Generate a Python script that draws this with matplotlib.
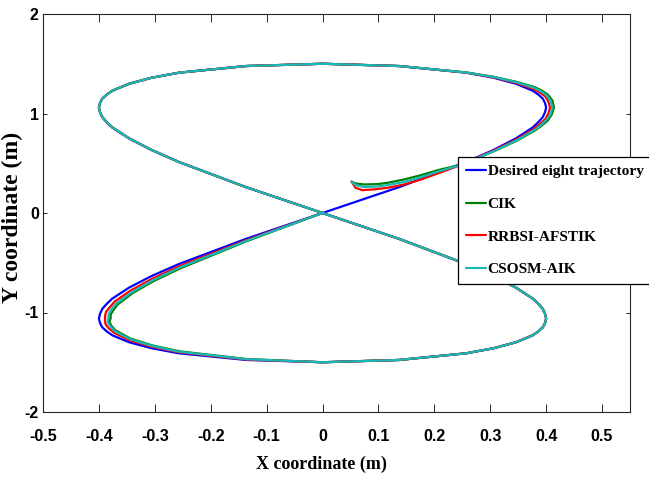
import matplotlib
matplotlib.use('Agg')
import matplotlib.pyplot as plt
from matplotlib.font_manager import FontProperties

plt.rcParams['font.family'] = ['Liberation Serif', 'DejaVu Serif']
plt.rcParams['axes.unicode_minus'] = False

# ---- data ----
# desired eight, first part (origin -> upper right tip -> near top)
des_start_x = [0, 0.137, 0.257, 0.306, 0.346, 0.376, 0.386, 0.394, 0.398, 0.400, 0.398, 0.394, 0.386,
               0.376, 0.346, 0.306, 0.257]
des_start_y = [0, 0.260, 0.513, 0.634, 0.750, 0.860, 0.913, 0.964, 1.013, 1.061, 1.106, 1.149, 1.190,
               1.229, 1.299, 1.359, 1.410]

# part where all four curves lie on top of each other (top -> upper left -> origin -> lower right -> bottom)
mid_x = [0.137, 0, -0.137, -0.257, -0.306, -0.346, -0.376, -0.386, -0.394, -0.398, -0.400, -0.398,
         -0.394, -0.386, -0.376, -0.346, -0.306, -0.257, -0.137, 0, 0.137, 0.257, 0.306, 0.346,
         0.376, 0.386, 0.394, 0.398, 0.400, 0.398, 0.394, 0.386, 0.376, 0.346, 0.306, 0.257, 0.137, 0]
mid_y = [1.477, 1.500, 1.477, 1.410, 1.359, 1.299, 1.229, 1.190, 1.149, 1.106, 1.061, 1.013,
         0.964, 0.913, 0.860, 0.750, 0.634, 0.513, 0.260, 0, -0.260, -0.513, -0.634, -0.750,
         -0.860, -0.913, -0.964, -1.013, -1.061, -1.106, -1.149, -1.190, -1.229, -1.299, -1.359, -1.410, -1.477, -1.500]

# desired eight, last part (lower left lobe back to origin)
des_end_x = [-0.137, -0.257, -0.306, -0.346, -0.376, -0.386, -0.394, -0.398, -0.400, -0.398, -0.394,
             -0.386, -0.376, -0.346, -0.306, -0.257, -0.137, 0]
des_end_y = [-1.477, -1.410, -1.359, -1.299, -1.229, -1.190, -1.149, -1.106, -1.061, -1.013, -0.964,
             -0.913, -0.860, -0.750, -0.634, -0.513, -0.260, 0]

# CIK
cik_start_x = [0.052, 0.059, 0.074, 0.098, 0.116, 0.146, 0.176, 0.206, 0.245,
               0.307, 0.348, 0.380, 0.392, 0.403, 0.410, 0.414, 0.411, 0.403, 0.392, 0.380, 0.347, 0.306, 0.257]
cik_start_y = [0.315, 0.297, 0.287, 0.290, 0.303, 0.337, 0.380, 0.430, 0.482,
               0.621, 0.728, 0.829, 0.878, 0.930, 0.989, 1.061, 1.133, 1.190, 1.231, 1.264, 1.318, 1.369, 1.413]
cik_end_x = [-0.137, -0.256, -0.305, -0.344, -0.371, -0.378, -0.381, -0.380, -0.379, -0.379, -0.379,
             -0.374, -0.367, -0.340, -0.302, -0.254, -0.136, 0]
cik_end_y = [-1.467, -1.390, -1.330, -1.261, -1.177, -1.131, -1.093, -1.068, -1.061, -1.049, -1.020,
             -0.976, -0.922, -0.806, -0.684, -0.555, -0.284, 0]

# RRBSI-AFSTIK
rr_start_x = [0.052, 0.059, 0.071, 0.092, 0.116, 0.146, 0.176, 0.206, 0.245,
              0.306, 0.347, 0.378, 0.389, 0.399, 0.404, 0.407, 0.404, 0.399, 0.389, 0.378, 0.346, 0.306, 0.257]
rr_start_y = [0.315, 0.253, 0.230, 0.237, 0.253, 0.287, 0.337, 0.397, 0.478,
              0.627, 0.739, 0.844, 0.896, 0.947, 1.001, 1.061, 1.119, 1.169, 1.210, 1.246, 1.308, 1.364, 1.411]
rr_end_x = [-0.137, -0.257, -0.305, -0.345, -0.373, -0.382, -0.388, -0.389, -0.389, -0.389, -0.387,
            -0.380, -0.372, -0.343, -0.304, -0.256, -0.136, 0]
rr_end_y = [-1.472, -1.400, -1.344, -1.280, -1.203, -1.161, -1.121, -1.087, -1.061, -1.031, -0.992,
            -0.944, -0.891, -0.778, -0.659, -0.534, -0.272, 0]

# CSOSM-AIK
cs_start_x = [0.052, 0.059, 0.074, 0.098, 0.116, 0.146, 0.176, 0.206, 0.245,
              0.307, 0.348, 0.380, 0.391, 0.401, 0.408, 0.411, 0.408, 0.401, 0.391, 0.379, 0.347, 0.306, 0.257]
cs_start_y = [0.315, 0.280, 0.262, 0.266, 0.280, 0.312, 0.360, 0.415, 0.480,
              0.623, 0.733, 0.836, 0.886, 0.938, 0.994, 1.061, 1.127, 1.181, 1.222, 1.256, 1.314, 1.367, 1.412]
cs_end_x = [-0.137, -0.257, -0.305, -0.344, -0.372, -0.379, -0.384, -0.384, -0.383, -0.383, -0.382,
            -0.377, -0.369, -0.341, -0.303, -0.255, -0.136, 0]
cs_end_y = [-1.469, -1.394, -1.336, -1.269, -1.187, -1.143, -1.104, -1.076, -1.061, -1.042, -1.009,
            -0.963, -0.910, -0.795, -0.674, -0.546, -0.279, 0]

labels = ['Desired eight trajectory', 'CIK', 'RRBSI-AFSTIK', 'CSOSM-AIK']
colors = ['#0000ff', '#008000', '#ff0000', '#17b8b8']

x_ticks = [-0.5, -0.4, -0.3, -0.2, -0.1, 0, 0.1, 0.2, 0.3, 0.4, 0.5]
x_tick_labels = ['-0.5', '-0.4', '-0.3', '-0.2', '-0.1', '0', '0.1', '0.2', '0.3', '0.4', '0.5']
y_ticks = [-2, -1, 0, 1, 2]
y_tick_labels = ['-2', '-1', '0', '1', '2']

series = [
    (des_start_x + mid_x + des_end_x, des_start_y + mid_y + des_end_y),
    (cik_start_x + mid_x + cik_end_x, cik_start_y + mid_y + cik_end_y),
    (rr_start_x + mid_x + rr_end_x, rr_start_y + mid_y + rr_end_y),
    (cs_start_x + mid_x + cs_end_x, cs_start_y + mid_y + cs_end_y),
]

fig = plt.figure(figsize=(6.49, 4.83), dpi=100)
ax = fig.add_axes([43/649, 1 - 412/483, 587/649, 398/483])

for (sx, sy), lab, col in zip(series, labels, colors):
    ax.plot(sx, sy, color=col, lw=1.6, label=lab,
            solid_joinstyle='round', solid_capstyle='round')

ax.set_xlim(-0.5, 0.55)
ax.set_ylim(-2, 2)
ax.set_xticks(x_ticks)
ax.set_xticklabels(x_tick_labels)
ax.set_yticks(y_ticks)
ax.set_yticklabels(y_tick_labels)

for sp in ax.spines.values():
    sp.set_color('#262626')
    sp.set_linewidth(0.8)
ax.tick_params(axis='x', direction='in', top=True, length=6, width=0.7, pad=12, colors='#262626')
ax.tick_params(axis='y', direction='in', right=True, length=3, width=0.7, pad=3, colors='#262626')

tick_font = ['Liberation Sans Narrow', 'Liberation Sans', 'DejaVu Sans']
for t in ax.get_xticklabels() + ax.get_yticklabels():
    t.set_family(tick_font)
    t.set_fontweight('bold')
    t.set_fontsize(11.5)
    t.set_color('black')

ax.set_xlabel('X coordinate (m)', fontsize=13, fontweight='bold')
ax.xaxis.set_label_coords(0.475, -0.11)
ax.set_ylabel('Y coordinate (m)', fontsize=17, fontweight='bold')
ax.yaxis.set_label_coords(-0.034, 0.49)

leg = ax.legend(loc='upper left', bbox_to_anchor=(458/649, 1 - 157/483),
                bbox_transform=fig.transFigure, borderaxespad=0,
                fancybox=False, framealpha=1, edgecolor='black',
                prop=FontProperties(family='Liberation Serif', weight='bold', size=11.1),
                handlelength=1.3, handletextpad=0.12, labelspacing=1.22, borderpad=0.5)
leg.get_frame().set_linewidth(0.9)

fig.savefig('out.png', dpi=100, facecolor='white')
print('Done')
